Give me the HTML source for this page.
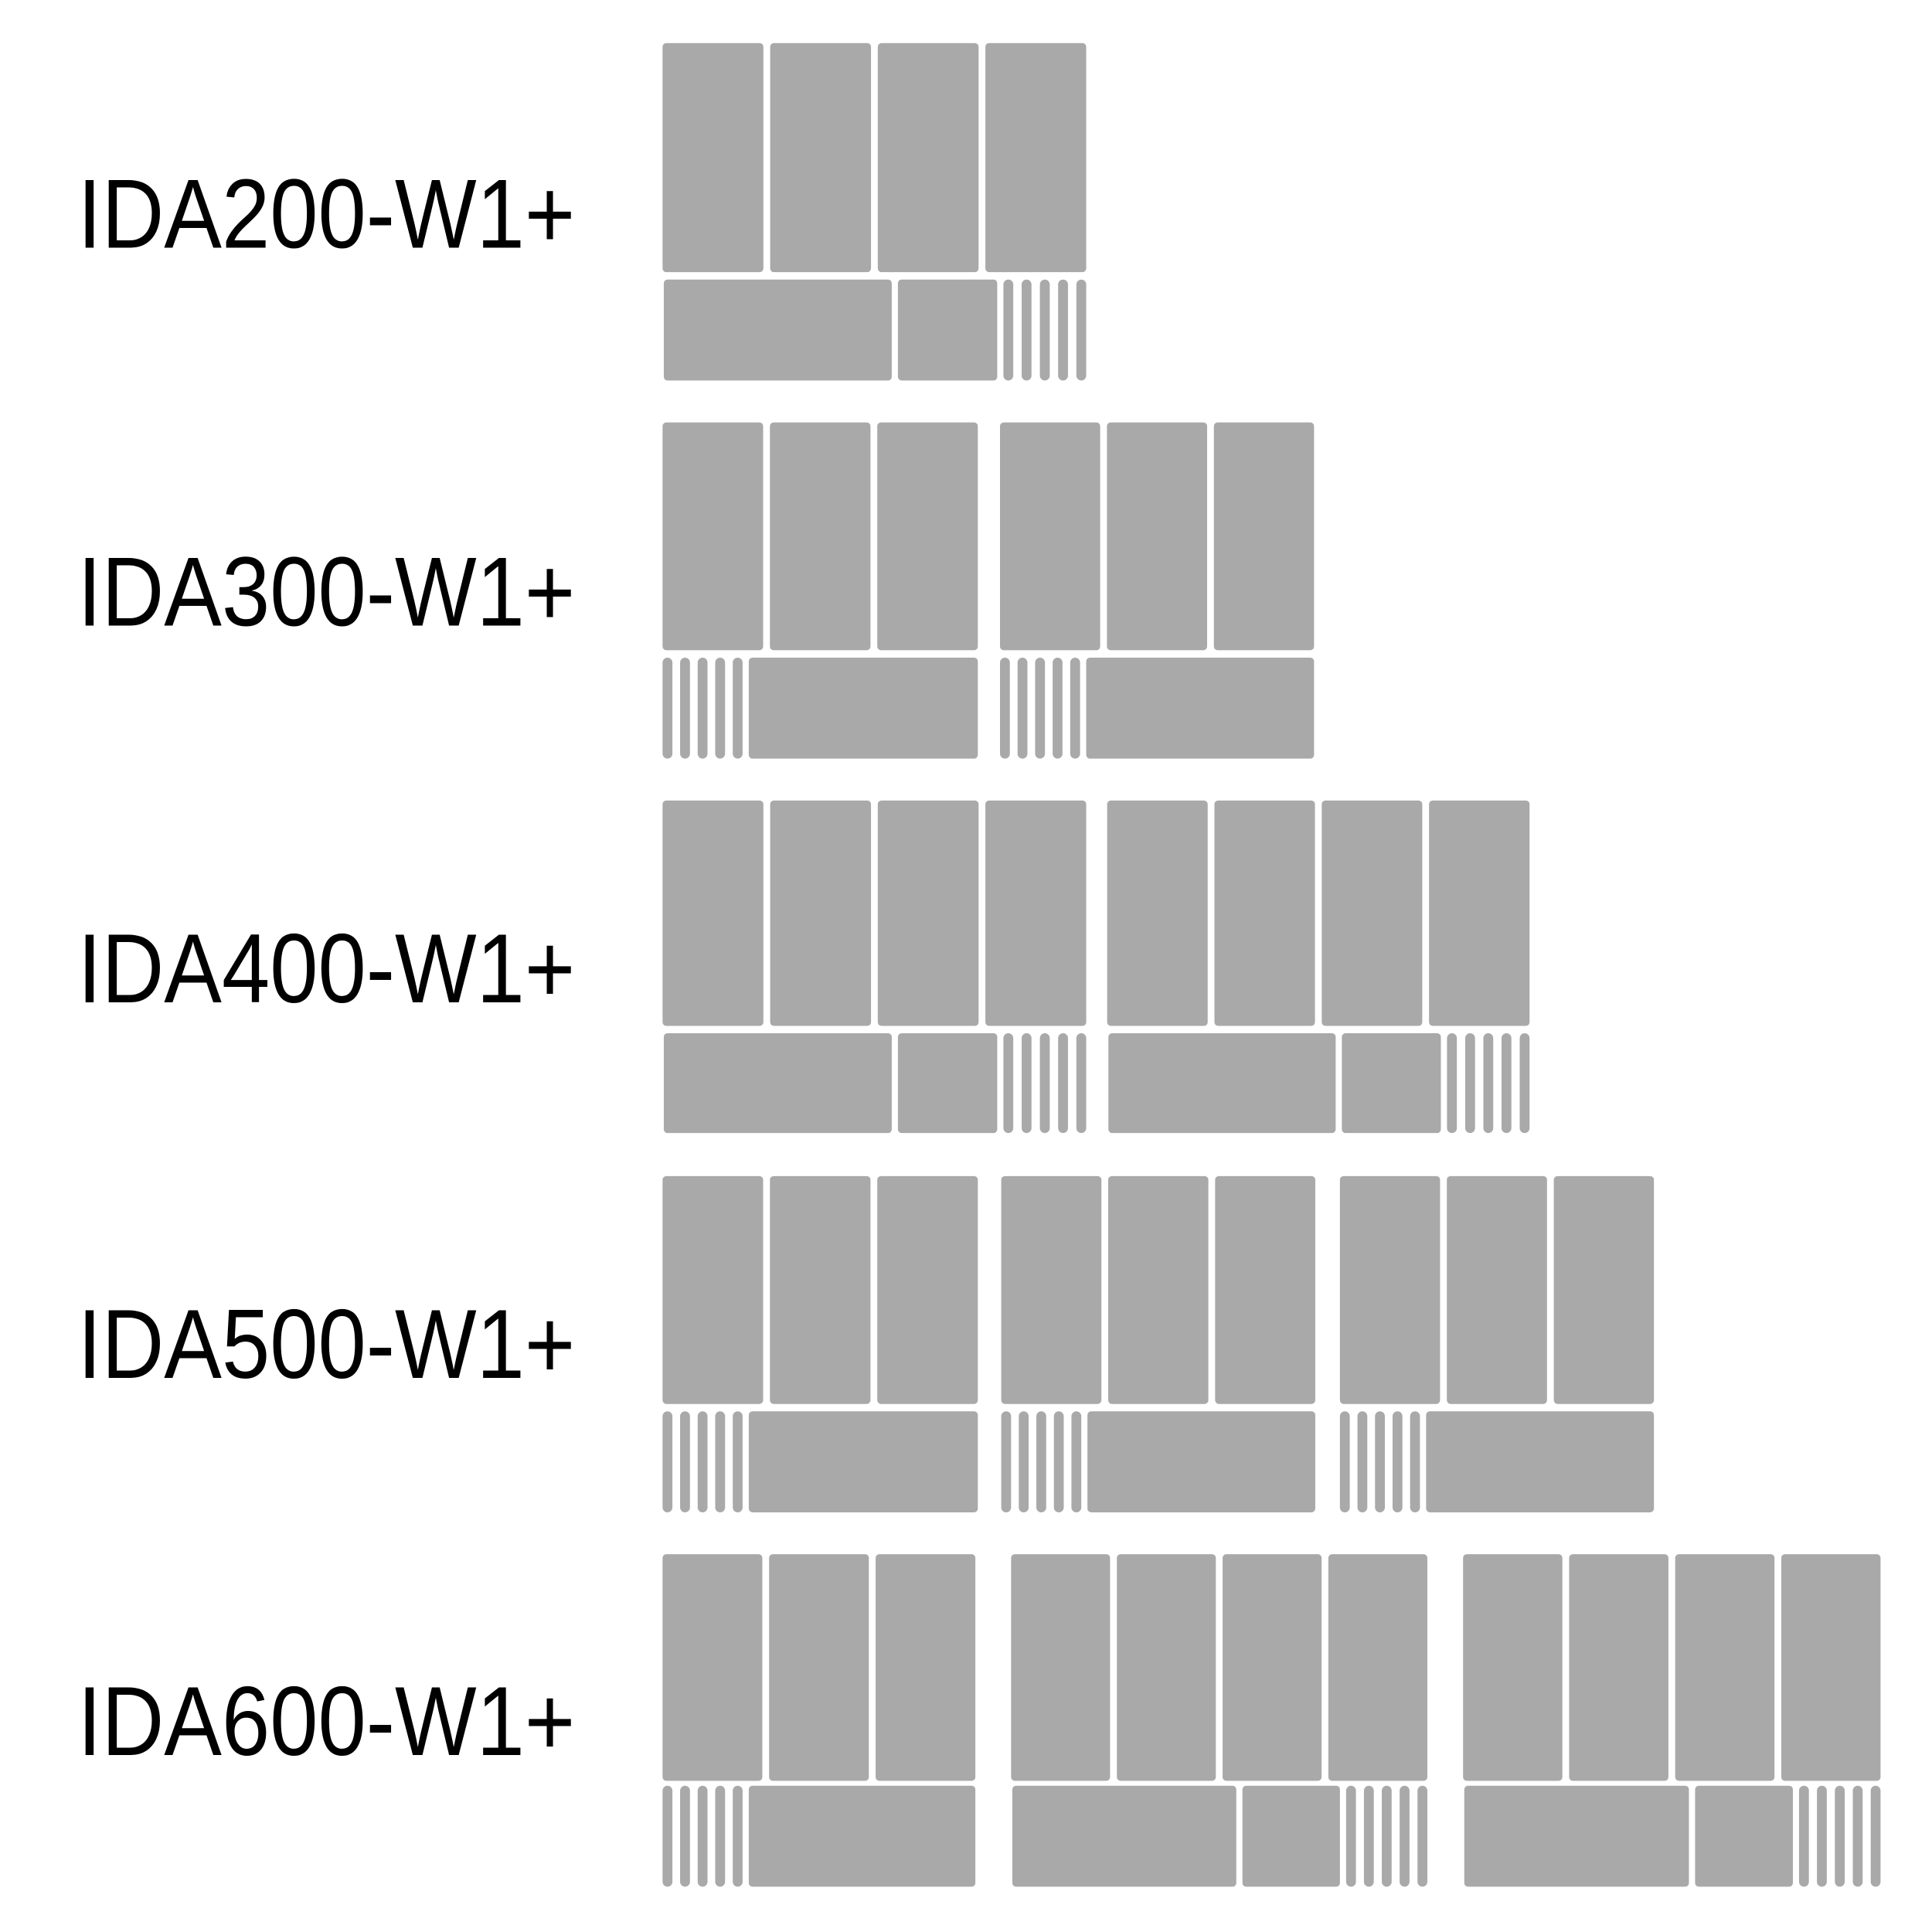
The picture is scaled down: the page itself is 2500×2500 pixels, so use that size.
<!DOCTYPE html>
<html><head><meta charset="utf-8"><style>
html,body{margin:0;padding:0;background:#fff;}
svg{display:block;}
text{font-family:"Liberation Sans",sans-serif;fill:#000;}
</style></head><body>
<svg id="s" width="2500" height="2500" viewBox="0 0 1562.5 1562.5" xmlns="http://www.w3.org/2000/svg">
<rect width="1562.5" height="1562.5" fill="#fff"/>
<g transform="scale(0.996)">
<text x="63" y="201" font-size="80" textLength="404" lengthAdjust="spacingAndGlyphs">IDA200-W1+</text>
<text x="63" y="508" font-size="80" textLength="404" lengthAdjust="spacingAndGlyphs">IDA300-W1+</text>
<text x="63" y="814" font-size="80" textLength="404" lengthAdjust="spacingAndGlyphs">IDA400-W1+</text>
<text x="63" y="1119" font-size="80" textLength="404" lengthAdjust="spacingAndGlyphs">IDA500-W1+</text>
<text x="63" y="1425" font-size="80" textLength="404" lengthAdjust="spacingAndGlyphs">IDA600-W1+</text>
<g id="g" fill="#a9a9a9"></g>
</g>
</svg>
<script>
var g=document.getElementById('g');
function R(x,y,w,h,r){var e=document.createElementNS('http://www.w3.org/2000/svg','rect');
e.setAttribute('x',x);e.setAttribute('y',y);e.setAttribute('width',w);e.setAttribute('height',h);
e.setAttribute('rx',r);e.setAttribute('ry',r);g.appendChild(e);}
function bars(x0,x1,y,h){var w=8,p=(x1-x0-w)/4;for(var i=0;i<5;i++)R(x0+i*p,y,w,h,4);}
function tall(x0,x1,n,y,h){var gap=5.5,w=(x1-x0-gap*(n-1))/n;for(var i=0;i<n;i++)R(x0+i*(w+gap),y,w,h,3);}
function A(x0,x1,ty,tb,by,bb){tall(x0,x1,4,ty,tb-ty);var W=x1-x0;
 var wEnd=x0+W*0.541, mStart=wEnd+5, mEnd=x0+W*0.79;
 R(x0+1,by,wEnd-x0-1,bb-by,3);R(mStart,by,mEnd-mStart,bb-by,3);bars(mEnd+5,x1,by,bb-by);}
function B(x0,x1,ty,tb,by,bb){tall(x0,x1,3,ty,tb-ty);bars(x0,x0+65,by,bb-by);R(x0+70,by,x1-x0-70,bb-by,3);}
A(538,882,35,221,227,309);
B(538,794,343,528,534,616);B(812,1067,343,528,534,616);
A(538,882,650,833,839,920);A(899,1242,650,833,839,920);
B(538,794,955,1140,1146,1228);B(813,1068,955,1140,1146,1228);B(1088,1343,955,1140,1146,1228);
B(538,792,1262,1446,1450,1532);A(821,1159,1262,1446,1450,1532);A(1188,1527,1262,1446,1450,1532);
</script>
</body></html>
